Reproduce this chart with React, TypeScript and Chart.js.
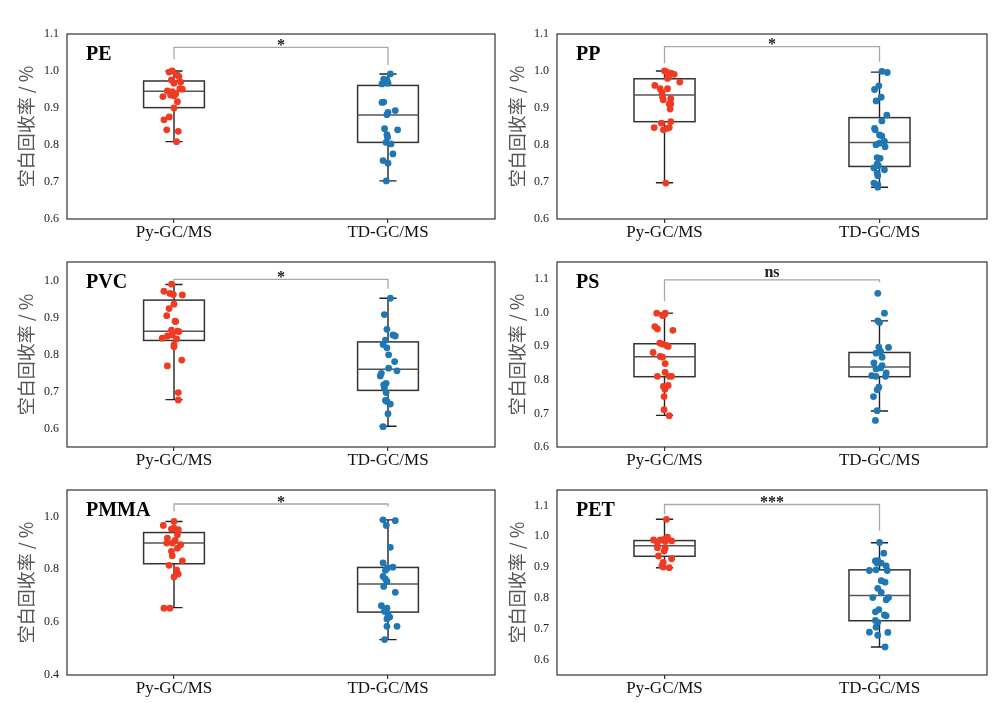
import React, { useEffect, useRef } from "react";
import { Chart, registerables } from "chart.js";

Chart.register(...registerables);

// ---------- shared labels ----------
const GROUPS = ["Py-GC/MS", "TD-GC/MS"];
const Y_TITLE = "空白回收率 / %";

// ---------- data: points are [jitter offset, recovery] ----------
const PE_PY = [[-0.008, 1.0], [-0.023, 0.997], [0.016, 0.989], [0.023, 0.985], [-0.012, 0.976], [0.031, 0.97], [0.0, 0.967], [0.027, 0.952], [0.039, 0.951], [-0.031, 0.946], [-0.008, 0.944], [0.008, 0.938], [-0.016, 0.935], [0.0, 0.933], [-0.052, 0.931], [0.016, 0.917], [0.0, 0.9], [-0.022, 0.876], [-0.047, 0.868], [-0.034, 0.841], [0.02, 0.837], [0.012, 0.809]];
const PE_TD = [[0.011, 0.992], [-0.02, 0.978], [-0.005, 0.976], [-0.028, 0.965], [0.0, 0.967], [-0.02, 0.916], [-0.028, 0.915], [0.0, 0.888], [0.034, 0.893], [-0.005, 0.882], [-0.016, 0.844], [0.045, 0.841], [-0.005, 0.828], [-0.002, 0.821], [-0.009, 0.807], [0.014, 0.803], [0.023, 0.776], [-0.023, 0.758], [0.0, 0.751], [-0.008, 0.703]];
const PE_BOX_PY = [0.809, 0.901, 0.945, 0.973, 1.0];
const PE_BOX_TD = [0.703, 0.807, 0.881, 0.961, 0.992];
const PE_SIG = ["*", 1.064, 1.032, 1.016];
const PE_RANGE = [0.6, 1.1];
const PE_TICKS = [0.6, 0.7, 0.8, 0.9, 1.0, 1.1];

const PP_PY = [[0.0, 1.0], [0.011, 0.997], [0.029, 0.994], [0.045, 0.991], [0.019, 0.985], [0.014, 0.98], [0.071, 0.97], [-0.045, 0.961], [-0.02, 0.952], [0.014, 0.952], [-0.012, 0.942], [-0.009, 0.929], [0.029, 0.925], [-0.006, 0.922], [0.022, 0.911], [0.029, 0.911], [0.026, 0.897], [0.029, 0.863], [-0.014, 0.859], [-0.048, 0.847], [-0.005, 0.841], [0.014, 0.845], [0.022, 0.847], [0.006, 0.697]];
const PP_TD = [[0.011, 0.999], [0.036, 0.996], [-0.003, 0.96], [-0.023, 0.95], [0.008, 0.929], [-0.016, 0.919], [0.034, 0.881], [0.011, 0.865], [-0.023, 0.845], [-0.02, 0.841], [0.0, 0.827], [0.011, 0.824], [0.023, 0.81], [0.0, 0.805], [-0.016, 0.801], [0.026, 0.795], [-0.011, 0.766], [0.003, 0.764], [-0.011, 0.748], [-0.005, 0.744], [-0.026, 0.738], [0.023, 0.733], [-0.011, 0.724], [-0.008, 0.717], [-0.026, 0.697], [-0.008, 0.693], [-0.008, 0.686]];
const PP_BOX_PY = [0.698, 0.863, 0.935, 0.979, 1.0];
const PP_BOX_TD = [0.686, 0.742, 0.807, 0.874, 0.997];
const PP_SIG = ["*", 1.066, 1.021, 1.024];
const PP_RANGE = [0.6, 1.1];
const PP_TICKS = [0.6, 0.7, 0.8, 0.9, 1.0, 1.1];

const PVC_PY = [[-0.011, 0.99], [-0.047, 0.971], [-0.019, 0.965], [-0.003, 0.962], [0.039, 0.961], [0.0, 0.936], [-0.023, 0.924], [-0.034, 0.905], [0.005, 0.89], [0.008, 0.889], [-0.012, 0.866], [0.016, 0.863], [0.023, 0.862], [-0.031, 0.85], [-0.008, 0.853], [-0.055, 0.844], [0.012, 0.842], [0.0, 0.826], [0.0, 0.821], [0.036, 0.785], [-0.031, 0.769], [0.02, 0.697], [0.02, 0.677]];
const PVC_TD = [[0.011, 0.952], [-0.017, 0.908], [-0.005, 0.868], [0.023, 0.853], [0.034, 0.85], [-0.012, 0.839], [-0.023, 0.827], [-0.005, 0.818], [0.003, 0.799], [0.031, 0.781], [0.003, 0.763], [0.042, 0.756], [-0.031, 0.749], [-0.036, 0.742], [-0.009, 0.722], [-0.02, 0.718], [-0.017, 0.711], [-0.009, 0.697], [-0.012, 0.676], [-0.005, 0.673], [0.011, 0.666], [0.0, 0.64], [-0.023, 0.605]];
const PVC_BOX_PY = [0.678, 0.838, 0.863, 0.947, 0.989];
const PVC_BOX_TD = [0.606, 0.703, 0.76, 0.834, 0.952];
const PVC_SIG = ["*", 1.003, 0.995, 0.978];
const PVC_RANGE = [0.55, 1.05];
const PVC_TICKS = [0.6, 0.7, 0.8, 0.9, 1.0];

const PS_PY = [[0.003, 0.998], [-0.036, 0.998], [-0.009, 0.991], [-0.002, 0.993], [-0.045, 0.958], [-0.033, 0.951], [0.039, 0.947], [-0.022, 0.909], [-0.009, 0.906], [0.009, 0.902], [0.017, 0.899], [-0.053, 0.881], [-0.02, 0.869], [-0.009, 0.867], [0.003, 0.848], [0.003, 0.822], [-0.033, 0.81], [0.022, 0.81], [0.033, 0.81], [-0.005, 0.78], [0.017, 0.783], [0.002, 0.772], [-0.002, 0.75], [-0.002, 0.711], [0.022, 0.693]];
const PS_TD = [[-0.008, 1.057], [0.023, 0.998], [-0.008, 0.975], [0.0, 0.97], [-0.003, 0.897], [0.042, 0.896], [-0.016, 0.879], [0.005, 0.884], [0.012, 0.867], [-0.026, 0.85], [0.012, 0.842], [-0.016, 0.832], [0.005, 0.835], [0.031, 0.82], [-0.036, 0.812], [-0.016, 0.81], [0.028, 0.81], [-0.003, 0.778], [-0.011, 0.77], [-0.028, 0.75], [-0.011, 0.708], [-0.019, 0.679]];
const PS_BOX_PY = [0.694, 0.809, 0.868, 0.907, 0.998];
const PS_BOX_TD = [0.707, 0.809, 0.838, 0.881, 0.975];
const PS_SIG = ["ns", 1.097, 1.033, 1.09];
const PS_RANGE = [0.6, 1.15];
const PS_TICKS = [0.6, 0.7, 0.8, 0.9, 1.0, 1.1];

const PMMA_PY = [[0.0, 0.981], [-0.05, 0.966], [0.0, 0.956], [-0.012, 0.952], [0.02, 0.95], [0.016, 0.931], [-0.031, 0.918], [0.005, 0.909], [-0.008, 0.899], [-0.034, 0.899], [0.031, 0.893], [0.016, 0.88], [-0.012, 0.868], [-0.008, 0.851], [0.039, 0.832], [-0.023, 0.815], [0.012, 0.798], [0.02, 0.782], [0.0, 0.771], [-0.047, 0.653], [-0.019, 0.653]];
const PMMA_TD = [[-0.023, 0.987], [0.034, 0.984], [-0.008, 0.966], [0.011, 0.883], [-0.023, 0.824], [-0.002, 0.805], [0.023, 0.808], [-0.012, 0.796], [-0.023, 0.773], [-0.012, 0.763], [-0.005, 0.754], [-0.02, 0.735], [0.034, 0.713], [-0.031, 0.662], [-0.005, 0.653], [-0.017, 0.641], [0.0, 0.628], [-0.005, 0.612], [0.008, 0.619], [-0.005, 0.584], [0.042, 0.584], [-0.016, 0.534]];
const PMMA_BOX_PY = [0.655, 0.821, 0.899, 0.939, 0.981];
const PMMA_BOX_TD = [0.534, 0.638, 0.744, 0.807, 0.987];
const PMMA_SIG = ["*", 1.047, 1.019, 1.038];
const PMMA_RANGE = [0.4, 1.1];
const PMMA_TICKS = [0.4, 0.6, 0.8, 1.0];

const PET_PY = [[0.009, 1.055], [-0.051, 0.988], [0.014, 0.997], [-0.02, 0.988], [-0.002, 0.99], [-0.033, 0.979], [0.033, 0.985], [0.003, 0.983], [-0.033, 0.963], [0.003, 0.961], [-0.002, 0.952], [-0.028, 0.936], [0.033, 0.927], [-0.006, 0.915], [-0.012, 0.904], [0.022, 0.898], [-0.006, 0.9]];
const PET_TD = [[0.0, 0.98], [0.02, 0.945], [-0.019, 0.92], [-0.008, 0.921], [0.008, 0.913], [-0.011, 0.913], [0.031, 0.904], [-0.047, 0.889], [-0.016, 0.891], [0.036, 0.889], [0.008, 0.856], [0.026, 0.851], [-0.008, 0.831], [0.008, 0.818], [-0.031, 0.801], [0.042, 0.801], [0.031, 0.794], [-0.003, 0.762], [-0.019, 0.755], [0.023, 0.745], [0.031, 0.742], [-0.019, 0.727], [-0.008, 0.721], [-0.016, 0.705], [-0.047, 0.689], [0.039, 0.688], [-0.008, 0.679], [0.026, 0.641]];
const PET_BOX_PY = [0.898, 0.935, 0.969, 0.986, 1.055];
const PET_BOX_TD = [0.641, 0.726, 0.808, 0.891, 0.979];
const PET_SIG = ["***", 1.103, 1.071, 1.018];
const PET_RANGE = [0.55, 1.15];
const PET_TICKS = [0.6, 0.7, 0.8, 0.9, 1.0, 1.1];

// ---------- style ----------
const RED = "#EF3B22";
const BLUE = "#1F77B4";
const SERIF = "'Liberation Serif', 'Times New Roman', serif";
const CJK = "'Noto Sans CJK SC', 'Noto Sans', sans-serif";
const BOX_HALF = 0.142;
const CAP_HALF = 0.04;

type PanelProps = {
  name: string;
  py: number[][];
  td: number[][];
  boxPy: number[];
  boxTd: number[];
  sig: (string | number)[];
  range: number[];
  ticks: number[];
  col: number;
  row: number;
};

function Panel(p: PanelProps) {
  const ref = useRef<HTMLCanvasElement | null>(null);

  useEffect(() => {
    if (!ref.current) return;
    const left = p.col === 0;

    const boxPlugin = {
      id: "boxes",
      beforeDatasetsDraw(chart: any) {
        const { ctx, scales } = chart;
        const x = scales.x;
        const y = scales.y;
        ctx.save();
        [p.boxPy, p.boxTd].forEach((b, i) => {
          const cx = x.getPixelForValue(i);
          const hw = x.getPixelForValue(i + BOX_HALF) - cx;
          const cw = x.getPixelForValue(i + CAP_HALF) - cx;
          const [lo, q1, med, q3, hi] = b.map((v) => y.getPixelForValue(v));
          ctx.strokeStyle = "#222";
          ctx.lineWidth = 1.4;
          ctx.beginPath();
          ctx.moveTo(cx, hi); ctx.lineTo(cx, q3);
          ctx.moveTo(cx, q1); ctx.lineTo(cx, lo);
          ctx.moveTo(cx - cw, hi); ctx.lineTo(cx + cw, hi);
          ctx.moveTo(cx - cw, lo); ctx.lineTo(cx + cw, lo);
          ctx.stroke();
          ctx.fillStyle = "#ffffff";
          ctx.fillRect(cx - hw, q3, 2 * hw, q1 - q3);
          ctx.strokeStyle = "#333";
          ctx.lineWidth = 1.5;
          ctx.strokeRect(cx - hw, q3, 2 * hw, q1 - q3);
          ctx.strokeStyle = "#555";
          ctx.lineWidth = 1.5;
          ctx.beginPath();
          ctx.moveTo(cx - hw, med); ctx.lineTo(cx + hw, med);
          ctx.stroke();
        });
        ctx.restore();
      },
      afterDatasetsDraw(chart: any) {
        const { ctx, chartArea, scales } = chart;
        const x = scales.x;
        const y = scales.y;
        ctx.save();
        // frame
        ctx.strokeStyle = "#333";
        ctx.lineWidth = 1.2;
        ctx.strokeRect(chartArea.left, chartArea.top, chartArea.right - chartArea.left, chartArea.bottom - chartArea.top);
        // panel label
        ctx.fillStyle = "#000";
        ctx.font = `bold 20px ${SERIF}`;
        ctx.textAlign = "left";
        ctx.textBaseline = "alphabetic";
        ctx.fillText(p.name, chartArea.left + 19, chartArea.top + 26);
        // significance bracket
        const [txt, lineV, leftV, rightV] = p.sig as [string, number, number, number];
        const x0 = x.getPixelForValue(0);
        const x1 = x.getPixelForValue(1);
        const ly = y.getPixelForValue(lineV);
        ctx.strokeStyle = "#A8A8A8";
        ctx.lineWidth = 1.3;
        ctx.beginPath();
        ctx.moveTo(x0, y.getPixelForValue(leftV));
        ctx.lineTo(x0, ly);
        ctx.lineTo(x1, ly);
        ctx.lineTo(x1, y.getPixelForValue(rightV));
        ctx.stroke();
        ctx.fillStyle = "#222";
        ctx.font = `bold 16px ${SERIF}`;
        ctx.textAlign = "center";
        const base = txt.startsWith("*") ? ly + 2.5 : ly - 3;
        ctx.fillText(txt, (x0 + x1) / 2, base);
        ctx.restore();
      },
    };

    const chart = new Chart(ref.current, {
      type: "scatter",
      data: {
        datasets: [
          {
            data: p.py.map(([dx, v]) => ({ x: 0 + dx, y: v })),
            pointBackgroundColor: RED,
            pointBorderWidth: 0,
            pointRadius: 3.4,
          },
          {
            data: p.td.map(([dx, v]) => ({ x: 1 + dx, y: v })),
            pointBackgroundColor: BLUE,
            pointBorderWidth: 0,
            pointRadius: 3.4,
          },
        ],
      },
      options: {
        animation: false,
        responsive: false,
        devicePixelRatio: 1,
        layout: { padding: { top: 34, left: 0, right: left ? 7 : 17, bottom: 0 } },
        plugins: { legend: { display: false }, tooltip: { enabled: false } },
        scales: {
          x: {
            type: "linear",
            min: -0.5,
            max: 1.5,
            afterBuildTicks: (s: any) => {
              s.ticks = [{ value: 0 }, { value: 1 }];
            },
            afterFit: (s: any) => {
              s.height = 22;
            },
            ticks: {
              callback: (v: any) => GROUPS[Math.round(Number(v))],
              font: { family: SERIF, size: 17, lineHeight: 1 },
              color: "#111",
              padding: 1,
              maxRotation: 0,
            },
            grid: { display: true, drawOnChartArea: false, drawTicks: true, tickLength: 4, color: "#333", lineWidth: 1.2 },
            border: { display: false },
          },
          y: {
            type: "linear",
            min: p.range[0],
            max: p.range[1],
            afterBuildTicks: (s: any) => {
              s.ticks = p.ticks.map((v) => ({ value: v }));
            },
            afterFit: (s: any) => {
              s.width = left ? 67 : 55;
            },
            ticks: {
              callback: (v: any) => Number(v).toFixed(1),
              font: { family: SERIF, size: 12 },
              color: "#222",
              padding: 8,
            },
            grid: { display: false, drawTicks: false },
            border: { display: false },
            title: {
              display: true,
              text: Y_TITLE,
              color: "#555",
              font: { family: CJK, size: 18 },
              padding: { top: left ? 15 : 4, bottom: 0 },
            },
          },
        },
      },
      plugins: [boxPlugin],
    } as any);

    return () => chart.destroy();
  }, []);

  const plotTops = [34, 262, 490];
  return (
    <canvas
      ref={ref}
      width={502}
      height={241}
      style={{
        position: "absolute",
        left: p.col * 502,
        top: plotTops[p.row] - 34,
        width: 502,
        height: 241,
        display: "block",
      }}
    />
  );
}

export default function App() {
  return (
    <div style={{ position: "absolute", left: 0, top: 0, width: 1004, height: 723, background: "#fff" }}>
      <Panel name="PE" py={PE_PY} td={PE_TD} boxPy={PE_BOX_PY} boxTd={PE_BOX_TD} sig={PE_SIG} range={PE_RANGE} ticks={PE_TICKS} col={0} row={0} />
      <Panel name="PP" py={PP_PY} td={PP_TD} boxPy={PP_BOX_PY} boxTd={PP_BOX_TD} sig={PP_SIG} range={PP_RANGE} ticks={PP_TICKS} col={1} row={0} />
      <Panel name="PVC" py={PVC_PY} td={PVC_TD} boxPy={PVC_BOX_PY} boxTd={PVC_BOX_TD} sig={PVC_SIG} range={PVC_RANGE} ticks={PVC_TICKS} col={0} row={1} />
      <Panel name="PS" py={PS_PY} td={PS_TD} boxPy={PS_BOX_PY} boxTd={PS_BOX_TD} sig={PS_SIG} range={PS_RANGE} ticks={PS_TICKS} col={1} row={1} />
      <Panel name="PMMA" py={PMMA_PY} td={PMMA_TD} boxPy={PMMA_BOX_PY} boxTd={PMMA_BOX_TD} sig={PMMA_SIG} range={PMMA_RANGE} ticks={PMMA_TICKS} col={0} row={2} />
      <Panel name="PET" py={PET_PY} td={PET_TD} boxPy={PET_BOX_PY} boxTd={PET_BOX_TD} sig={PET_SIG} range={PET_RANGE} ticks={PET_TICKS} col={1} row={2} />
    </div>
  );
}
